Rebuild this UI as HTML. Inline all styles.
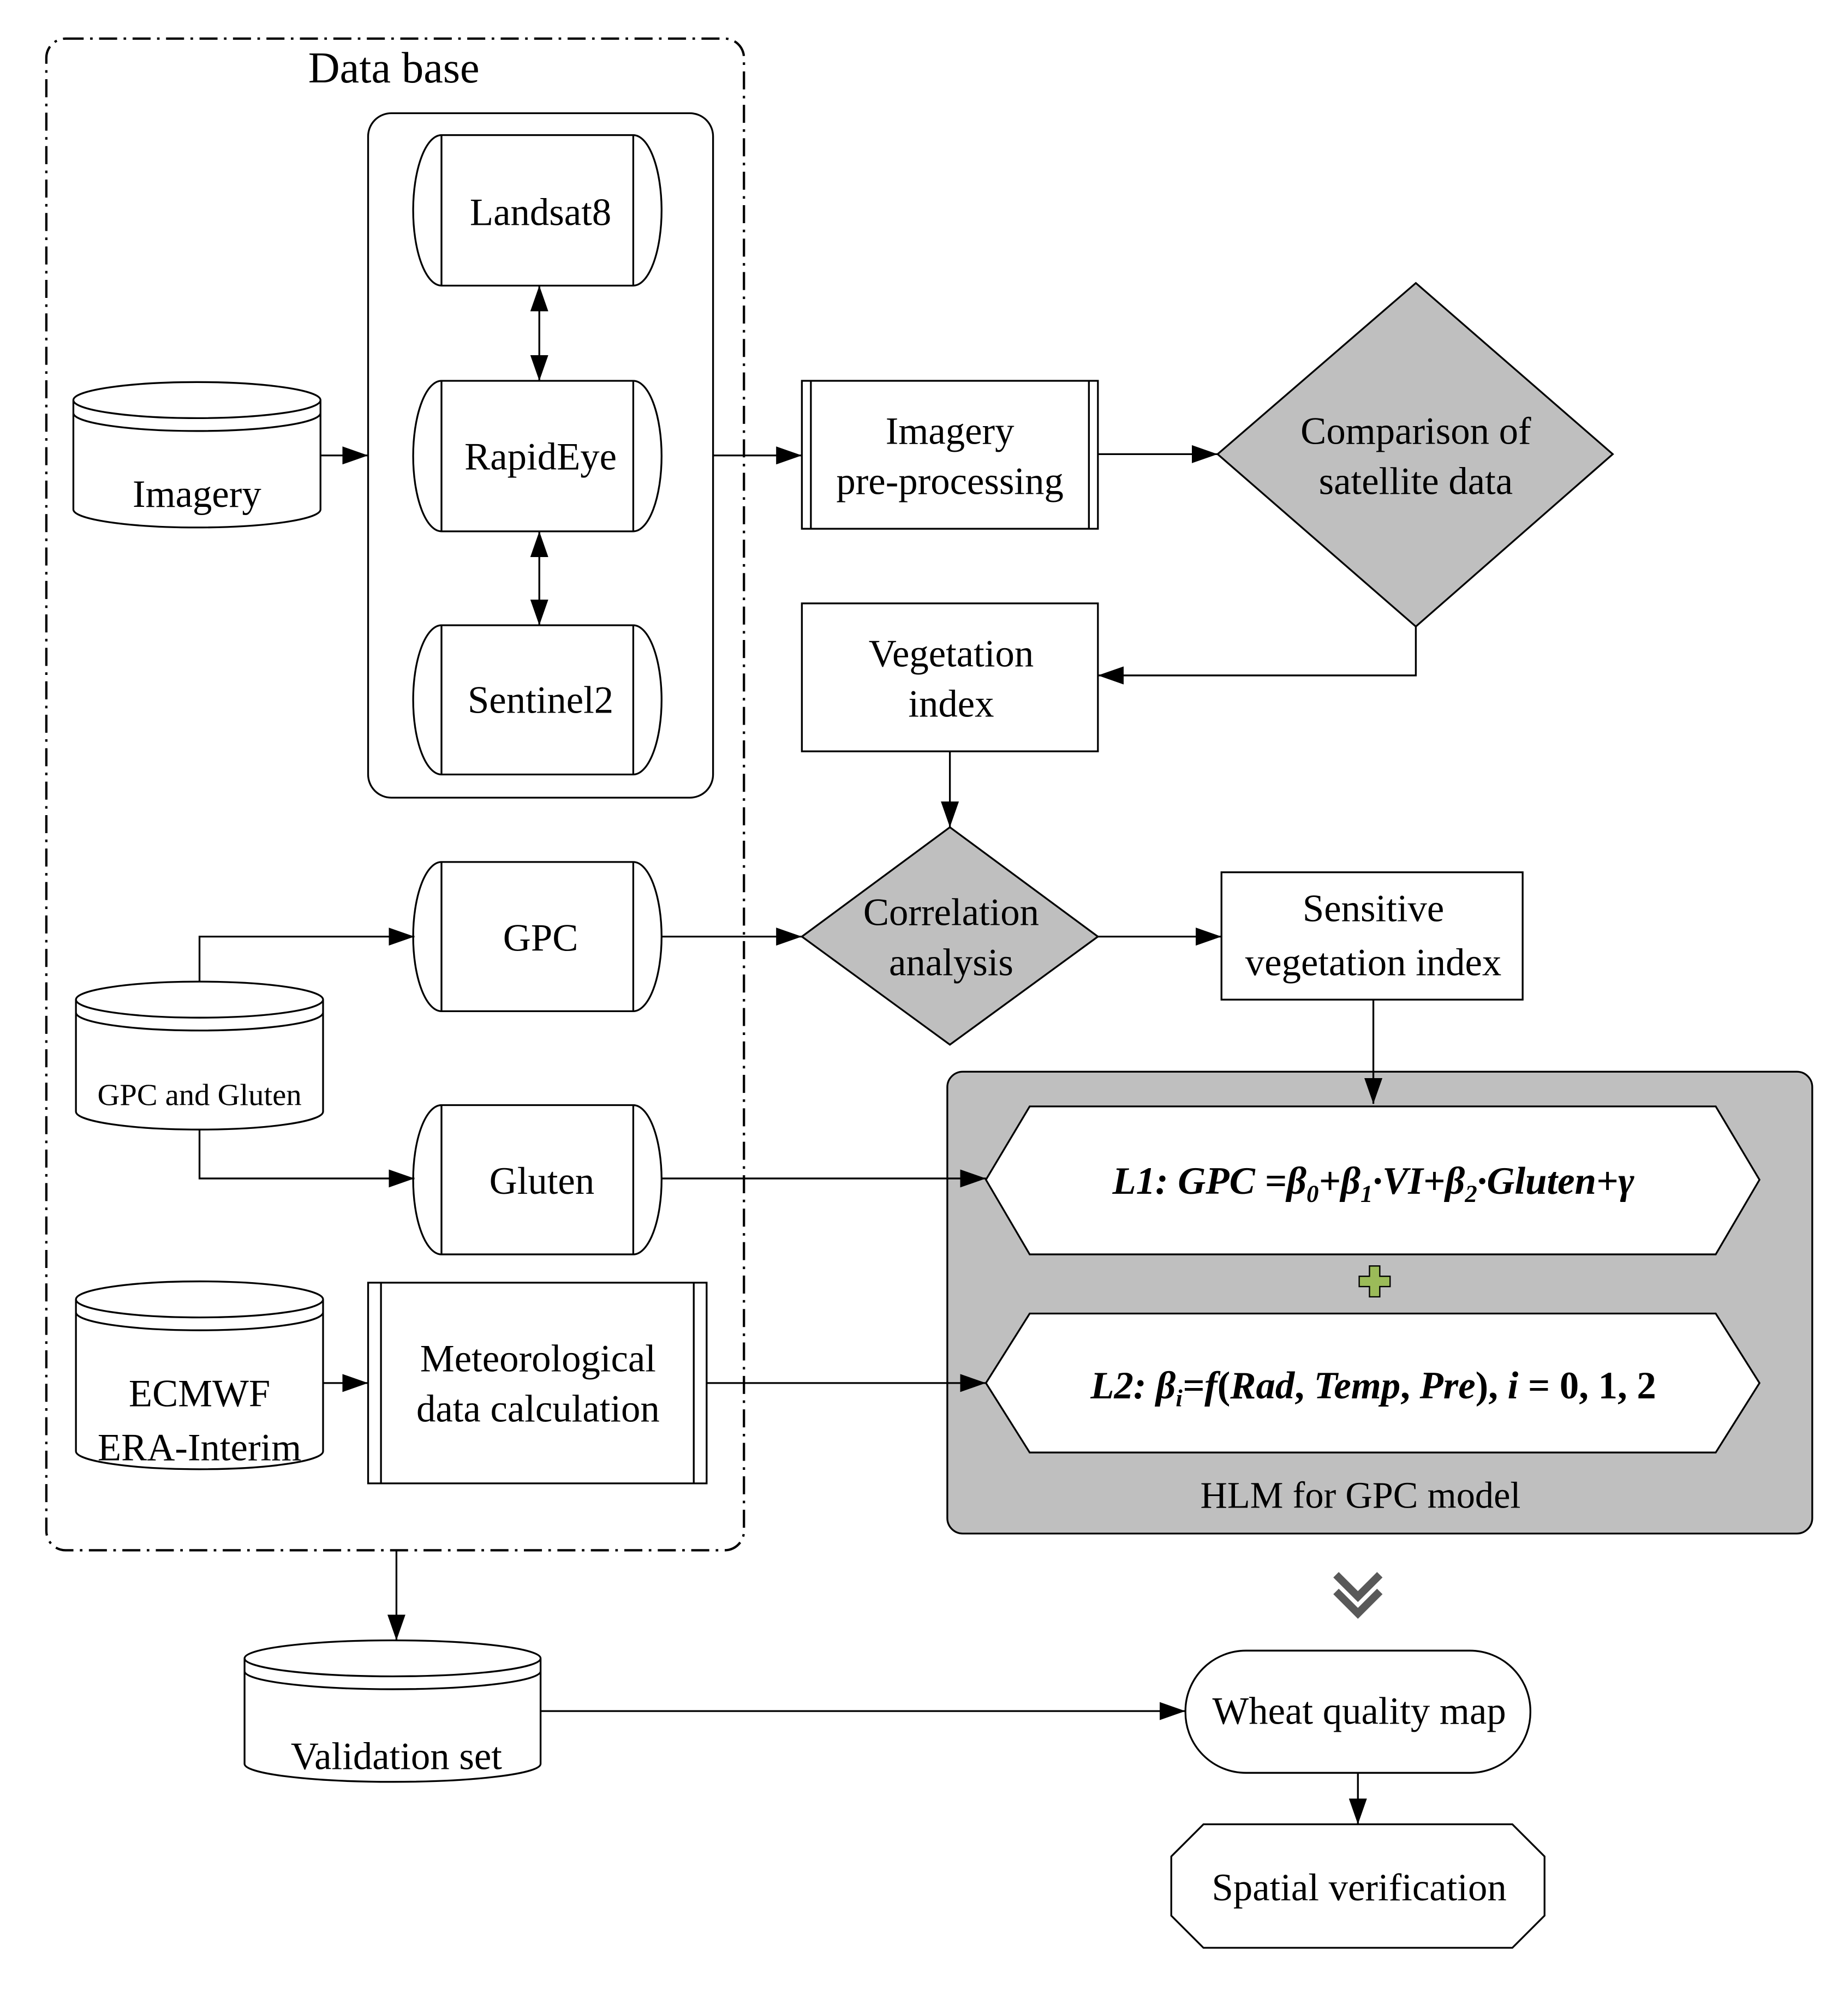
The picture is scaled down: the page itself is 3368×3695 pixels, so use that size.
<!DOCTYPE html>
<html><head><meta charset="utf-8"><style>
html,body{margin:0;padding:0;background:#fff;}
svg{display:block;}
text{font-family:"Liberation Serif",serif;fill:#000;text-anchor:middle;}
</style></head><body>
<svg width="3368" height="3695" viewBox="0 0 1428 1567" preserveAspectRatio="none" xmlns="http://www.w3.org/2000/svg">
<defs>
<marker id="a" viewBox="0 0 20 14" refX="20" refY="7" markerWidth="20" markerHeight="14" markerUnits="userSpaceOnUse" orient="auto-start-reverse">
<path d="M0,0 L20,7 L0,14 Z" fill="#000"/></marker>
</defs>
<g fill="none" stroke="#000" stroke-width="1.4">
<rect x="36" y="30" width="542" height="1175" rx="15" stroke-width="1.8" stroke-dasharray="14,5,2,5"/>
<rect x="286" y="88" width="268" height="532" rx="18"/>
<path d="M343,105 H492 A22,58.5 0 0 1 492,222 H343 A22,58.5 0 0 1 343,105 Z M343,105 V222 M492,105 V222" fill="#fff"/>
<path d="M343,296 H492 A22,58.5 0 0 1 492,413 H343 A22,58.5 0 0 1 343,296 Z M343,296 V413 M492,296 V413" fill="#fff"/>
<path d="M343,486 H492 A22,58 0 0 1 492,602 H343 A22,58 0 0 1 343,486 Z M343,486 V602 M492,486 V602" fill="#fff"/>
<path d="M343,670 H492 A22,58 0 0 1 492,786 H343 A22,58 0 0 1 343,670 Z M343,670 V786 M492,670 V786" fill="#fff"/>
<path d="M343,859 H492 A22,58 0 0 1 492,975 H343 A22,58 0 0 1 343,859 Z M343,859 V975 M492,859 V975" fill="#fff"/>
<line x1="419" y1="222" x2="419" y2="296" marker-start="url(#a)" marker-end="url(#a)"/>
<line x1="419" y1="413" x2="419" y2="486" marker-start="url(#a)" marker-end="url(#a)"/>
<path d="M57,311 A96,14 0 0 1 249,311 A96,14 0 0 1 57,311 M57,321 A96,14 0 0 0 249,321 M57,311 V396 A96,14 0 0 0 249,396 V311"/>
<path d="M59,777 A96,14 0 0 1 251,777 A96,14 0 0 1 59,777 M59,787 A96,14 0 0 0 251,787 M59,777 V864 A96,14 0 0 0 251,864 V777"/>
<path d="M59,1010 A96,14 0 0 1 251,1010 A96,14 0 0 1 59,1010 M59,1020 A96,14 0 0 0 251,1020 M59,1010 V1128 A96,14 0 0 0 251,1128 V1010"/>
<path d="M190,1289 A115,14 0 0 1 420,1289 A115,14 0 0 1 190,1289 M190,1299 A115,14 0 0 0 420,1299 M190,1289 V1371 A115,14 0 0 0 420,1371 V1289"/>
<line x1="249" y1="354" x2="286" y2="354" marker-end="url(#a)"/>
<line x1="554" y1="354" x2="623" y2="354" marker-end="url(#a)"/>
<polyline points="155,763 155,728 322,728" marker-end="url(#a)"/>
<polyline points="155,878 155,916 322,916" marker-end="url(#a)"/>
<line x1="251" y1="1075" x2="286" y2="1075" marker-end="url(#a)"/>
<rect x="623" y="296" width="230" height="115"/>
<path d="M630,296 V411 M846,296 V411"/>
<rect x="286" y="997" width="263" height="156"/>
<path d="M296,997 V1153 M539,997 V1153"/>
<line x1="853" y1="353" x2="946" y2="353" marker-end="url(#a)"/>
<polygon points="1100,220 1253,353 1100,487 946,353" fill="#bfbfbf"/>
<polyline points="1100,487 1100,525 853,525" marker-end="url(#a)"/>
<rect x="623" y="469" width="230" height="115"/>
<line x1="738" y1="584" x2="738" y2="643" marker-end="url(#a)"/>
<polygon points="738,643 853,728 738,812 623,728" fill="#bfbfbf"/>
<line x1="514" y1="728" x2="623" y2="728" marker-end="url(#a)"/>
<line x1="853" y1="728" x2="949" y2="728" marker-end="url(#a)"/>
<rect x="949" y="678" width="234" height="99"/>
<rect x="736" y="833" width="672" height="359" rx="12" fill="#bfbfbf"/>
<line x1="1067" y1="777" x2="1067" y2="858" marker-end="url(#a)"/>
<polygon points="800,860 1333,860 1367,917 1333,975 800,975 766,917" fill="#fff"/>
<polygon points="800,1021 1333,1021 1367,1075 1333,1129 800,1129 766,1075" fill="#fff"/>
<line x1="514" y1="916" x2="766" y2="916" marker-end="url(#a)"/>
<line x1="549" y1="1075" x2="766" y2="1075" marker-end="url(#a)"/>
<path d="M1064,984 h8 v8 h8 v8 h-8 v8 h-8 v-8 h-8 v-8 h8 Z" fill="#9bbb59" stroke="#000" stroke-width="1"/>
<line x1="308" y1="1205" x2="308" y2="1275" marker-end="url(#a)"/>
<line x1="420" y1="1330" x2="921" y2="1330" marker-end="url(#a)"/>
<rect x="921" y="1283" width="268" height="95" rx="47" fill="#fff"/>
<line x1="1055" y1="1378" x2="1055" y2="1418" marker-end="url(#a)"/>
<polygon points="935,1418 1175,1418 1200,1443 1200,1489 1175,1514 935,1514 910,1489 910,1443" fill="#fff"/>
</g>
<path d="M1038,1224 L1055,1241 L1072,1224 M1038,1237 L1055,1254 L1072,1237" fill="none" stroke="#595959" stroke-width="6"/>
<g font-size="30">
<text x="306" y="64" font-size="34">Data base</text>
<text x="420" y="175">Landsat8</text>
<text x="420" y="365">RapidEye</text>
<text x="420" y="554">Sentinel2</text>
<text x="420" y="739">GPC</text>
<text x="421" y="928">Gluten</text>
<text x="153" y="394">Imagery</text>
<text x="155" y="859" font-size="24">GPC and Gluten</text>
<text x="155" y="1093">ECMWF</text>
<text x="155" y="1135">ERA-Interim</text>
<text x="418" y="1066">Meteorological</text>
<text x="418" y="1105">data calculation</text>
<text x="738" y="345">Imagery</text>
<text x="738" y="384">pre-processing</text>
<text x="1100" y="345">Comparison of</text>
<text x="1100" y="384">satellite data</text>
<text x="739" y="518">Vegetation</text>
<text x="739" y="557">index</text>
<text x="739" y="719">Correlation</text>
<text x="739" y="758">analysis</text>
<text x="1067" y="716">Sensitive</text>
<text x="1067" y="758">vegetation index</text>
<text x="1067" y="928" font-weight="bold" font-style="italic">L1: GPC =β<tspan font-size="19" dy="6">0</tspan><tspan dy="-6">+β</tspan><tspan font-size="19" dy="6">1</tspan><tspan dy="-6">·VI+β</tspan><tspan font-size="19" dy="6">2</tspan><tspan dy="-6">·Gluten+γ</tspan></text>
<text x="1067" y="1087" font-weight="bold"><tspan font-style="italic">L2: β</tspan><tspan font-size="19" dy="6" font-style="italic">i</tspan><tspan dy="-6" font-style="italic">=f</tspan>(<tspan font-style="italic">Rad</tspan>, <tspan font-style="italic">Temp</tspan>, <tspan font-style="italic">Pre</tspan>), <tspan font-style="italic">i</tspan> = 0, 1, 2</text>
<text x="1057" y="1172" font-size="29">HLM for GPC model</text>
<text x="308" y="1375">Validation set</text>
<text x="1056" y="1340">Wheat quality map</text>
<text x="1056" y="1477">Spatial verification</text>
</g>
</svg>
</body></html>
